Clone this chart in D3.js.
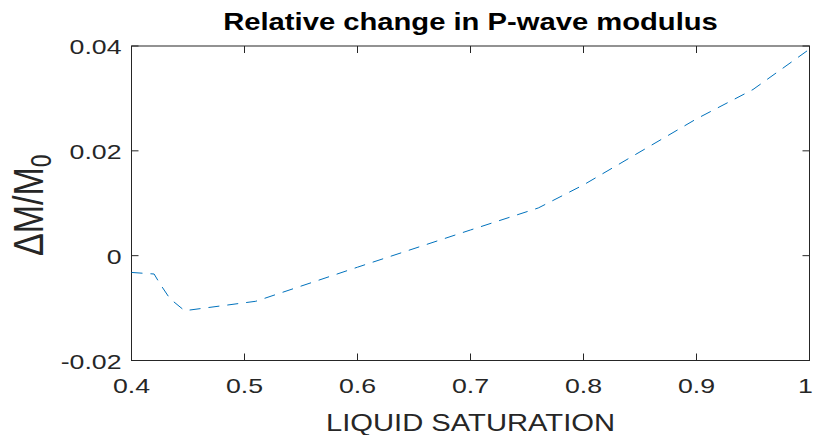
<!DOCTYPE html>
<html>
<head>
<meta charset="utf-8">
<script src="https://cdn.jsdelivr.net/npm/d3@7"></script>
<style>
  body { margin: 0; background: #fff; }
  text { font-family: 'Liberation Sans', Arial, sans-serif; }
</style>
</head>
<body>
<div id="chart"></div>
<script>
// liquid saturation vs relative change in P-wave modulus
const saturation = [0.40, 0.42, 0.425, 0.434, 0.447, 0.51, 0.60, 0.70, 0.76, 0.80, 0.90, 0.95, 1.00]
const deltaM = [-0.0032, -0.0035, -0.0053, -0.0082, -0.0105, -0.0087, -0.0022, 0.0049, 0.0091, 0.0135, 0.0261, 0.0317, 0.0394]
const xTicks = [0.4, 0.5, 0.6, 0.7, 0.8, 0.9, 1]
const yTicks = [-0.02, 0, 0.02, 0.04]

const margin = { top: 46, left: 131.5, right: 3.5, bottom: 74.5 }
const width = 813 - margin.left - margin.right
const height = 435 - margin.top - margin.bottom
const stretch = 1.27 // text in the picture is wider than tall
const axisColor = '#262626'

const svg = d3
  .select('#chart')
  .append('svg')
  .attr('width', 813)
  .attr('height', 435)

const g = svg.append('g')
  .attr('transform', 'translate(' + margin.left + ',' + margin.top + ')')

const x = d3.scaleLinear().domain([0.4, 1]).range([0, width])
const y = d3.scaleLinear().domain([-0.02, 0.04]).range([height, 0])

const tickLen = 7

// ticks on all four sides, pointing in
xTicks.forEach(t => {
  g.append('line').attr('x1', x(t)).attr('x2', x(t)).attr('y1', height).attr('y2', height - tickLen)
    .attr('stroke', axisColor)
  g.append('line').attr('x1', x(t)).attr('x2', x(t)).attr('y1', 0).attr('y2', tickLen)
    .attr('stroke', axisColor)
  g.append('text')
    .text(t)
    .attr('transform', `translate(${x(t) - (t === 1 ? 4 : 0)},${height + 32.5}) scale(${stretch},1)`)
    .attr('text-anchor', 'middle')
    .attr('font-size', 21)
    .attr('fill', axisColor)
})

yTicks.forEach(t => {
  g.append('line').attr('x1', 0).attr('x2', tickLen).attr('y1', y(t)).attr('y2', y(t))
    .attr('stroke', axisColor)
  g.append('line').attr('x1', width).attr('x2', width - tickLen).attr('y1', y(t)).attr('y2', y(t))
    .attr('stroke', axisColor)
  g.append('text')
    .text(t)
    .attr('transform', `translate(-10,${y(t) + 8}) scale(${stretch},1)`)
    .attr('text-anchor', 'end')
    .attr('font-size', 21)
    .attr('fill', axisColor)
})

// box
g.append('rect')
  .attr('width', width)
  .attr('height', height)
  .attr('fill', 'none')
  .attr('stroke', axisColor)
  .attr('stroke-width', 1)

const points = saturation.map((s, i) => [s, deltaM[i]])

const line = d3.line()
  .x(d => x(d[0]))
  .y(d => y(d[1]))

g.append('path')
  .datum(points)
  .attr('d', line)
  .attr('fill', 'none')
  .attr('stroke', '#0072BD')
  .attr('stroke-width', 1)
  .attr('stroke-dasharray', '11,8')

// title
g.append('text')
  .text('Relative change in P-wave modulus')
  .attr('transform', `translate(${width / 2},-16) scale(${stretch},1)`)
  .attr('text-anchor', 'middle')
  .attr('font-size', 23)
  .attr('font-weight', 'bold')
  .attr('fill', '#000')

// x label
g.append('text')
  .text('LIQUID SATURATION')
  .attr('transform', `translate(${width / 2},${height + 70}) scale(${stretch},1)`)
  .attr('text-anchor', 'middle')
  .attr('font-size', 23)
  .attr('fill', axisColor)

// y label with subscript
const yl = g.append('text')
  .attr('transform', `translate(-89,${height / 2 + 2}) rotate(-90) scale(1,${stretch})`)
  .attr('text-anchor', 'middle')
  .attr('font-size', 34)
  .attr('fill', axisColor)
yl.append('tspan').text('ΔM/M')
yl.append('tspan').text('0').attr('font-size', 23).attr('dy', 7)
</script>
</body>
</html>
